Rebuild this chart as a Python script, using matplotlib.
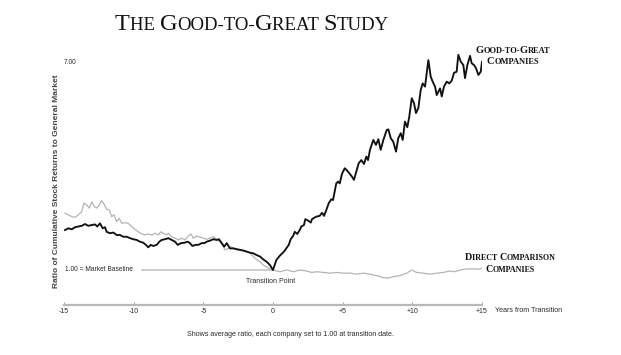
import matplotlib
matplotlib.use('Agg')
import matplotlib.pyplot as plt
from matplotlib.offsetbox import TextArea, HPacker, AnnotationBbox

# --- Data ---
# Good-to-great companies: years from transition, ratio to market
gtg_years = [-14.93, -14.69, -14.45, -14.21, -13.97, -13.73, -13.49, -13.26, -13.01, -12.78,
             -12.61, -12.42, -12.22, -12.06, -11.94, -11.70, -11.46, -11.22, -10.98, -10.74,
             -10.50, -10.26, -10.03, -9.78, -9.55, -9.31, -9.12, -8.95, -8.78, -8.59,
             -8.35, -8.16, -7.99, -7.75, -7.51, -7.27, -7.03, -6.84, -6.60, -6.37,
             -6.12, -5.96, -5.79, -5.55, -5.36, -5.12, -4.93, -4.76, -4.52, -4.28,
             -4.04, -3.88, -3.68, -3.50, -3.32, -3.09, -2.85, -2.61, -2.37, -2.13,
             -1.89, -1.65, -1.41, -1.17, -0.93, -0.70, -0.45, -0.22, 0.00,
             0.24, 0.48, 0.79, 0.95, 1.13, 1.27, 1.44, 1.56, 1.74, 1.92,
             2.03, 2.22, 2.32, 2.51, 2.71, 2.80, 3.11, 3.35, 3.52, 3.66,
             3.83, 4.00, 4.18, 4.31, 4.43, 4.54, 4.67, 4.79, 4.95, 5.15,
             5.33, 5.51, 5.67, 5.81, 5.98, 6.15, 6.34, 6.53, 6.70, 6.82,
             6.96, 7.20, 7.39, 7.56, 7.73, 7.92, 8.16, 8.28, 8.45, 8.63,
             8.83, 8.99, 9.17, 9.31, 9.47, 9.64, 9.78, 9.96, 10.12, 10.26,
             10.43, 10.60, 10.74, 10.91, 11.15, 11.32, 11.46, 11.63, 11.75, 11.99,
             12.11, 12.27, 12.47, 12.65, 12.83, 12.99, 13.18, 13.30, 13.47, 13.66,
             13.78, 13.95, 14.14, 14.26, 14.43, 14.57, 14.74, 14.91, 15.0]
gtg_ratio = [2.13, 2.18, 2.15, 2.21, 2.23, 2.25, 2.30, 2.25, 2.27, 2.29,
             2.23, 2.32, 2.18, 2.21, 2.08, 2.04, 2.06, 1.99, 1.99, 1.94,
             1.94, 1.90, 1.87, 1.85, 1.80, 1.77, 1.71, 1.64, 1.71, 1.68,
             1.71, 1.80, 1.85, 1.87, 1.90, 1.85, 1.80, 1.71, 1.76, 1.77,
             1.80, 1.76, 1.68, 1.71, 1.71, 1.76, 1.76, 1.80, 1.83, 1.87,
             1.85, 1.87, 1.76, 1.66, 1.76, 1.61, 1.61, 1.59, 1.57, 1.55,
             1.52, 1.49, 1.47, 1.42, 1.38, 1.30, 1.23, 1.14, 1.00,
             1.28, 1.40, 1.52, 1.61, 1.71, 1.87, 1.96, 2.08, 2.02, 2.13,
             2.23, 2.27, 2.44, 2.40, 2.34, 2.44, 2.51, 2.53, 2.62, 2.53,
             2.70, 2.89, 3.00, 2.98, 3.22, 3.45, 3.50, 3.45, 3.72, 3.88,
             3.81, 3.72, 3.64, 3.55, 3.78, 4.02, 4.11, 4.00, 4.21, 4.11,
             4.40, 4.68, 4.54, 4.70, 4.40, 4.68, 4.96, 4.98, 4.73, 4.63,
             4.35, 4.73, 4.87, 4.68, 5.20, 5.04, 5.34, 5.86, 5.72, 5.44,
             5.58, 6.09, 6.28, 6.19, 6.94, 6.47, 6.33, 6.19, 5.95, 6.14,
             5.91, 6.19, 6.33, 6.28, 6.36, 6.58, 6.61, 7.09, 6.90, 6.80,
             6.43, 6.80, 7.06, 6.85, 6.80, 6.71, 6.52, 6.61, 6.89]

# Direct comparison companies
cmp_years = [-14.93, -14.69, -14.45, -14.21, -13.97, -13.73, -13.57, -13.37, -13.18, -13.01,
             -12.85, -12.65, -12.47, -12.30, -12.13, -11.94, -11.75, -11.58, -11.41, -11.22,
             -11.03, -10.86, -10.62, -10.39, -10.14, -9.90, -9.67, -9.42, -9.19, -8.95,
             -8.71, -8.47, -8.23, -8.06, -7.87, -7.63, -7.51, -7.27, -7.03, -6.80,
             -6.55, -6.32, -6.08, -5.89, -5.72, -5.48, -5.24, -5.00, -4.76, -4.52,
             -4.28, -4.04, -3.80, -3.57, -3.45, -3.21, -3.01, -2.61, -2.13, -1.65,
             -1.29, -0.93, -0.70, -0.45, -0.14, 0.00,
             0.50, 0.98, 1.46, 1.94, 2.42, 2.78, 3.14, 3.61, 4.09, 4.57,
             5.05, 5.53, 6.01, 6.48, 6.96, 7.44, 7.92, 8.28, 8.63, 9.12,
             9.60, 9.96, 10.31, 10.79, 11.27, 11.75, 12.22, 12.70, 13.06, 13.42,
             13.90, 14.38, 14.74, 14.99]
cmp_ratio = [2.61, 2.56, 2.51, 2.49, 2.56, 2.65, 2.89, 2.84, 2.75, 2.93,
             2.81, 2.75, 2.84, 2.96, 2.87, 2.72, 2.70, 2.51, 2.56, 2.37,
             2.46, 2.32, 2.34, 2.32, 2.23, 2.15, 2.08, 2.02, 1.99, 2.02,
             1.99, 2.04, 1.99, 2.08, 2.04, 1.99, 2.04, 1.94, 1.90, 1.85,
             1.90, 1.85, 1.96, 2.02, 1.90, 1.96, 1.93, 1.90, 1.87, 1.90,
             1.94, 1.85, 1.80, 1.66, 1.57, 1.61, 1.66, 1.57, 1.54, 1.48,
             1.33, 1.23, 1.14, 1.08, 1.02, 1.00,
             0.95, 1.00, 0.95, 1.00, 0.97, 0.93, 0.95, 0.93, 0.91, 0.93,
             0.91, 0.91, 0.88, 0.91, 0.88, 0.84, 0.78, 0.77, 0.81, 0.84,
             0.91, 1.00, 0.93, 0.91, 0.88, 0.91, 0.93, 0.97, 0.95, 1.00,
             1.03, 1.03, 1.02, 1.05]

x_ticks = [-15, -10, -5, 0, 5, 10, 15]
x_tick_labels = ['-15', '-10', '-5', '0', '+5', '+10', '+15']
baseline_start = -9.43

SANS = 'Liberation Sans'
SERIF = 'Liberation Serif'
GREY = '#b4b4b4'
TXT = '#2a2a2a'

fig = plt.figure(figsize=(6.21, 3.55), dpi=100)
ax = fig.add_axes([64 / 621, 0.14, 418 / 621, 0.7166])

ax.plot([baseline_start, 0], [1, 1], color='#c0c0c0', lw=1.1, zorder=1)
ax.plot(cmp_years, cmp_ratio, color=GREY, lw=0.9, zorder=2)
ax.plot(gtg_years, gtg_ratio, color='#111111', lw=1.35, zorder=3)

ax.set_xlim(-15, 15)
ax.set_ylim(0, 7.2)
for s in ['top', 'right', 'left']:
    ax.spines[s].set_visible(False)
ax.spines['bottom'].set_color('#b8b8b8')
ax.spines['bottom'].set_linewidth(1.6)
ax.set_yticks([])
ax.set_xticks(x_ticks)
ax.set_xticklabels(x_tick_labels, fontsize=5, family=SANS, color=TXT)
ax.tick_params(axis='x', direction='in', length=2.5, width=0.6, color='#999999', pad=2)

ax.text(0, 0.955, '7.00', transform=ax.transAxes, fontsize=4.8, family=SANS,
        color=TXT, ha='left', va='center')
ax.text(-14.93, 1.0, '1.00 = Market Baseline', fontsize=4.8, family=SANS,
        color=TXT, ha='left', va='center')
ax.text(-0.2, 0.66, 'Transition Point', fontsize=5, family=SANS,
        color=TXT, ha='center', va='center')

fig.text(495 / 621, (355 - 310) / 355, 'Years from Transition', fontsize=5.1,
         family=SANS, color=TXT, ha='left', va='center')
fig.text(290.5 / 621, (355 - 335) / 355,
         'Shows average ratio, each company set to 1.00 at transition date.',
         fontsize=5.1, family=SANS, color=TXT, ha='center', va='center')
fig.text(57 / 621, (355 - 181) / 355,
         'Ratio of Cumulative Stock Returns to General Market', rotation=90,
         fontsize=6, fontweight='bold', family=SANS, color='#444444',
         ha='center', va='center')


def small_caps(runs, big, small, weight, xy):
    # runs alternate big capital / small capital pieces
    boxes = []
    for i, piece in enumerate(runs):
        size = big if i % 2 == 0 else small
        boxes.append(TextArea(piece, textprops=dict(fontsize=size, family=SERIF,
                                                    fontweight=weight, color='#111111')))
    pack = HPacker(children=boxes, align='baseline', pad=0, sep=0)
    ab = AnnotationBbox(pack, xy, xycoords='figure fraction', frameon=False,
                        box_alignment=(0.5, 0.5), pad=0, annotation_clip=False)
    fig.add_artist(ab)


small_caps(['T', 'HE ', 'G', 'OOD-TO-', 'G', 'REAT ', 'S', 'TUDY'], 17.5, 13.5, 'normal',
           (252 / 621, (355 - 24) / 355))
small_caps(['G', 'OOD-TO-', 'G', 'REAT'], 7.5, 6, 'bold', (513 / 621, (355 - 50.5) / 355))
small_caps(['C', 'OMPANIES'], 7.5, 6, 'bold', (513 / 621, (355 - 61.5) / 355))
small_caps(['D', 'IRECT ', 'C', 'OMPARISON'], 7.2, 5.8, 'bold', (510 / 621, (355 - 257.5) / 355))
small_caps(['C', 'OMPANIES'], 7.2, 5.8, 'bold', (510 / 621, (355 - 269) / 355))

fig.savefig('out.png', dpi=100, facecolor='white')
